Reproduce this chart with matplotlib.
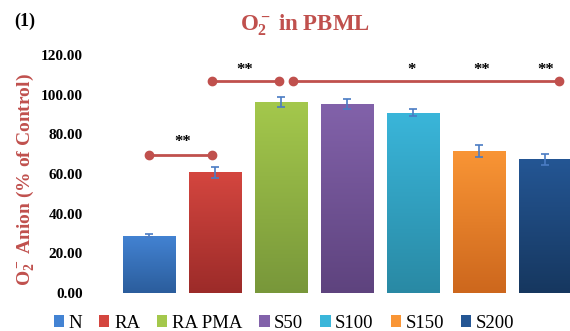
import matplotlib
matplotlib.use("Agg")
import matplotlib.pyplot as plt
import numpy as np
from matplotlib.patches import Patch
from matplotlib.colors import LinearSegmentedColormap

plt.rcParams['mathtext.fontset'] = 'custom'
plt.rcParams['mathtext.rm'] = 'Liberation Serif'
plt.rcParams['mathtext.bf'] = 'Liberation Serif:bold'
plt.rcParams['mathtext.it'] = 'Liberation Serif:italic'

# ---- data ----
categories = ['N', 'RA', 'RA PMA', 'S50', 'S100', 'S150', 'S200']
values = [28.9, 60.8, 96.0, 95.2, 90.8, 71.5, 67.4]
errors = [0.8, 2.8, 2.5, 2.4, 1.8, 3.0, 2.7]
top_colors = ['#4383d3', '#d4463f', '#a4c84c', '#8262aa', '#3ab6da', '#f99535', '#245694']
bottom_colors = ['#2b5d9c', '#9c2b29', '#78973a', '#5e437e', '#2989a4', '#cd671d', '#16375f']
yticks = [0, 20, 40, 60, 80, 100, 120]

# significance brackets: (start index, end index, level)
brackets = [(0.0, 0.96, 69.5), (0.95, 1.97, 106.6), (2.18, 6.2, 106.6)]
# significance labels: (index, level, text)
sig_labels = [(0.51, 76.0, '**'), (1.45, 112.5, '**'), (3.98, 112.5, '*'),
              (5.03, 112.5, '**'), (6.0, 112.5, '**')]

RED = '#c0504d'

fig = plt.figure(figsize=(5.70, 3.31), dpi=100)
ax = fig.add_axes([116/570, 38/331, (578.5-116)/570, (293-54.8)/331])

x = np.arange(len(categories))
bars = ax.bar(x, values, width=0.8, color=top_colors, edgecolor='none', zorder=2)

# gradient fill for bars
for b, c1, c2 in zip(bars, top_colors, bottom_colors):
    cmap = LinearSegmentedColormap.from_list('g', [c2, c1])
    grad = np.linspace(0, 1, 256).reshape(-1, 1)
    x0, y0 = b.get_x(), b.get_y()
    w, h = b.get_width(), b.get_height()
    im = ax.imshow(grad, cmap=cmap, origin='lower', aspect='auto',
                   extent=[x0, x0 + w, y0, y0 + h], zorder=2.1)
    im.set_clip_path(b)

ax.errorbar(x, values, yerr=errors, fmt='none', ecolor='#4a7cc4',
            elinewidth=1.2, capsize=3, capthick=1.2, zorder=3)

for s, e, lvl in brackets:
    ax.plot([s, e], [lvl, lvl], color=RED, lw=2, marker='o', markersize=6,
            zorder=4, clip_on=False)
for xi, lvl, t in sig_labels:
    ax.text(xi, lvl, t, ha='center', va='center', fontsize=12,
            family='Liberation Serif', fontweight='bold', color='black')

ax.set_xlim(-0.5, len(categories) - 0.5)
ax.set_ylim(0, 120)
ax.set_yticks(yticks)
ax.set_yticklabels([f'{v:.2f}' for v in yticks], family='Liberation Serif',
                   fontweight='bold', fontsize=11)
ax.tick_params(axis='y', length=0, pad=24)
ax.set_xticks([])
for sp in ax.spines.values():
    sp.set_visible(False)

fig.text(305/570, 1 - 25/331, r'$\mathbf{O_2^-}$ in PBML', ha='center', va='center',
         color=RED, fontsize=16.5, family='Liberation Serif', fontweight='bold')
fig.text(25/570, 1 - 180/331, r'$\mathbf{O_2^-}$ Anion (% of Control)', ha='center',
         va='center', rotation=90, color=RED, fontsize=14,
         family='Liberation Serif', fontweight='bold')
fig.text(25/570, 1 - 21/331, '(1)', ha='center', va='center', fontsize=13,
         family='Liberation Serif', fontweight='bold', color='black')

handles = [Patch(facecolor=c, edgecolor='none') for c in top_colors]
leg = fig.legend(handles, categories, loc='center', bbox_to_anchor=(284/570, 1 - 323/331),
                 ncol=7, frameon=False, handlelength=0.55, handleheight=0.55,
                 handletextpad=0.25, columnspacing=0.9,
                 prop={'family': 'Liberation Serif', 'size': 13.5})

fig.savefig('out.png', dpi=100)
